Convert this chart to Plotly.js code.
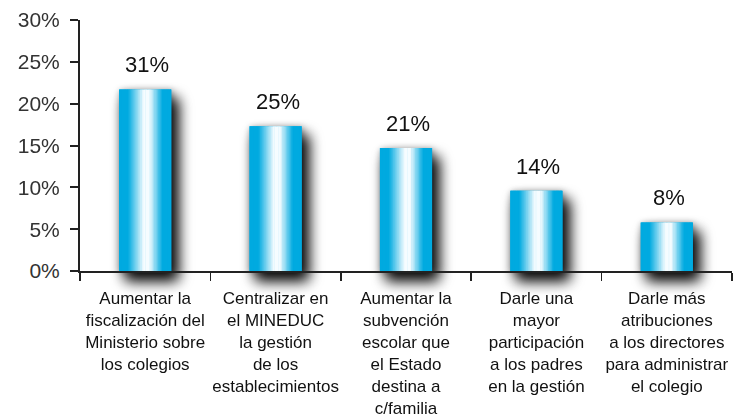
<!DOCTYPE html>
<html><head><meta charset="utf-8">
<script src="https://cdn.plot.ly/plotly-3.0.1.min.js"></script>
<style>
html,body{margin:0;padding:0;background:#fff;}
#chart{width:748px;height:418px;}
#chart .barlayer{filter: drop-shadow(6px 9px 7px rgba(0,0,0,1)) drop-shadow(1px 1px 3px rgba(0,0,0,0.35));}
</style></head><body><div id="chart"></div>
<script>
const categories = [
  'Aumentar la<br>fiscalización del<br>Ministerio sobre<br>los colegios',
  'Centralizar en<br>el MINEDUC<br>la gestión<br>de los<br>establecimientos',
  'Aumentar la<br>subvención<br>escolar que<br>el Estado<br>destina a<br>c/familia',
  'Darle una<br>mayor<br>participación<br>a los padres<br>en la gestión',
  'Darle más<br>atribuciones<br>a los directores<br>para administrar<br>el colegio'
];
const barValues = [21.7, 17.3, 14.7, 9.6, 5.8];
const barLabels = ['31%', '25%', '21%', '14%', '8%'];
const yTickValues = [0, 5, 10, 15, 20, 25, 30];
const yTickLabels = ['0%', '5%', '10%', '15%', '20%', '25%', '30%'];

// styling
const BLUE = [0, 170, 224];
const WHITE = [246, 252, 255];
const BAR_W = 0.4;
const N = 40;
function lerp(a, b, f) { return a.map((v, k) => Math.round(v + (b[k] - v) * f)); }
function colorAt(t) {
  let c;
  if (t < 0.17) c = BLUE;
  else if (t < 0.47) c = lerp(BLUE, WHITE, (t - 0.17) / 0.30);
  else if (t < 0.58) c = WHITE;
  else if (t < 0.83) c = lerp(WHITE, BLUE, (t - 0.58) / 0.25);
  else c = BLUE;
  return 'rgb(' + c.join(',') + ')';
}

const traces = [{
  type: 'bar', x: categories, y: barValues, width: BAR_W,
  marker: {color: 'rgb(' + BLUE.join(',') + ')', line: {width: 0}},
  cliponaxis: false, hoverinfo: 'skip', showlegend: false
}];
const w = BAR_W / N;
for (let i = 0; i < N; i++) {
  const off = -BAR_W / 2 + i * w;
  const wid = Math.min(w * 1.4, BAR_W / 2 - off);
  traces.push({
    type: 'bar', x: categories, y: barValues, width: wid, offset: off,
    marker: {color: colorAt((i + 0.5) / N), line: {width: 0}},
    cliponaxis: false, hoverinfo: 'skip', showlegend: false
  });
}

const annotations = categories.map((c, i) => ({
  x: c, y: barValues[i], text: barLabels[i], showarrow: false,
  yanchor: 'bottom', yshift: 10, xshift: 2,
  font: {family: 'Liberation Sans, Arial, sans-serif', size: 22, color: '#111'}
}));

const layout = {
  width: 748, height: 418,
  margin: {l: 80, r: 16, t: 20, b: 147},
  paper_bgcolor: '#fff', plot_bgcolor: '#fff',
  barmode: 'overlay', bargap: 0.6,
  showlegend: false,
  font: {family: 'Liberation Sans, Arial, sans-serif', color: '#111'},
  xaxis: {
    type: 'category', range: [-0.5, 4.5], tickson: 'boundaries',
    ticks: 'outside', ticklen: 8, tickwidth: 1.5, tickcolor: '#222',
    showline: true, linewidth: 1.5, linecolor: '#222',
    showgrid: false, zeroline: false, fixedrange: true,
    ticklabelstandoff: 11,
    tickfont: {size: 17, color: '#111'}, tickangle: 0
  },
  yaxis: {
    range: [0, 30], tickvals: yTickValues, ticktext: yTickLabels,
    ticks: 'outside', ticklen: 8, tickwidth: 2, tickcolor: '#222',
    showline: true, linewidth: 2, linecolor: '#222',
    showgrid: false, zeroline: false, fixedrange: true,
    ticklabelstandoff: 6,
    tickfont: {size: 21, color: '#333'}
  },
  annotations: annotations
};

Plotly.newPlot('chart', traces, layout, {displayModeBar: false, staticPlot: true});
</script>
</body></html>
